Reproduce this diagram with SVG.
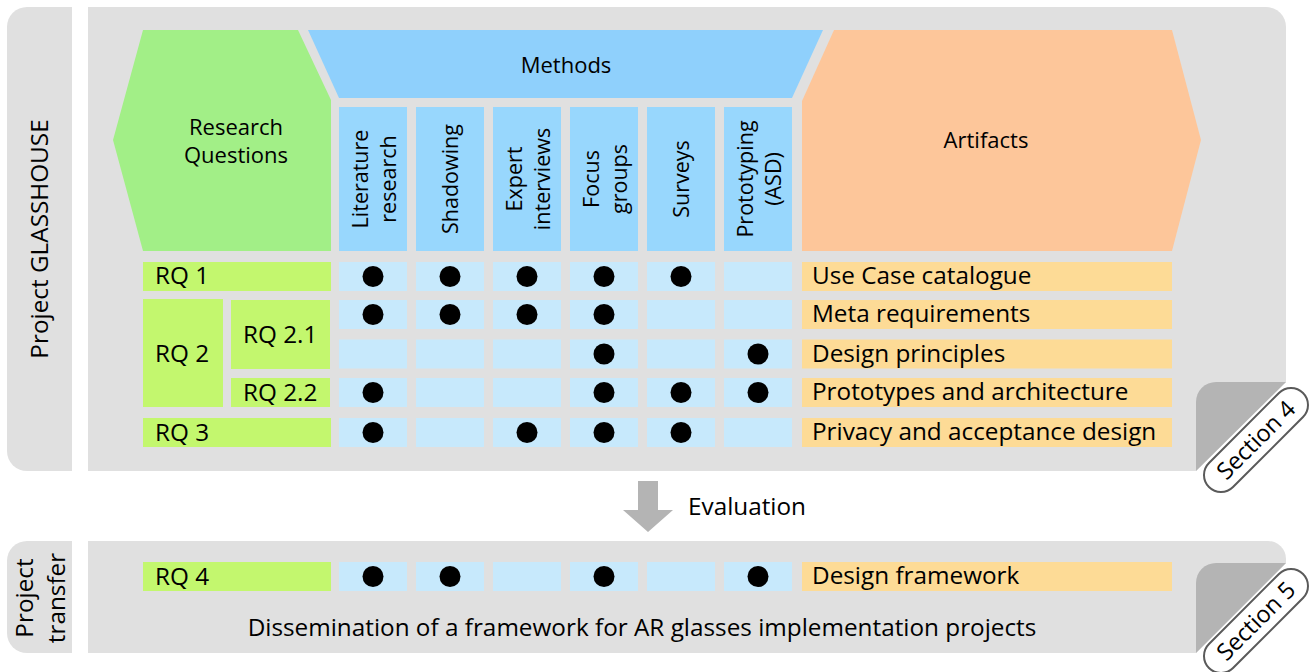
<svg xmlns="http://www.w3.org/2000/svg" width="1314" height="672" viewBox="0 0 1314 672">
  <style>
    text { font-family: "Open Sans", "Liberation Sans", sans-serif; fill: #000; }
    .panel { fill: #e0e0e0; }
    .curl { fill: #b4b4b4; }
    .pill { fill: #fff; stroke: #5a5a5a; stroke-width: 2; }
    .hdr-rq { fill: #a2ef87; }
    .hdr-m { fill: #8fd0fc; }
    .col { fill: #98d7fd; }
    .hdr-a { fill: #fdc69a; }
    .rq { fill: #c3f76e; }
    .cell { fill: #c7e9fc; }
    .art { fill: #fddb96; }
    .dot { fill: #000; }
    .arrow { fill: #b4b4b4; }
    .t24 { font-size: 24.3px; }
    .t22 { font-size: 22px; }
    .t21 { font-size: 21.5px; }
    .mid { text-anchor: middle; }
  </style>
  <defs>
    <circle id="dot" r="10.5" class="dot"/>
    <rect id="cell" width="68" height="29" class="cell"/>
  </defs>

  <rect width="1314" height="672" fill="#fff"/>

  <!-- Upper frame: Project GLASSHOUSE -->
  <g id="frame-glasshouse">
    <path class="panel" d="M27,7 H72 V471 H27 A20,20 0 0 1 7,451 V27 A20,20 0 0 1 27,7 Z"/>
    <text class="t24 mid" transform="translate(48,239) rotate(-90)">Project GLASSHOUSE</text>
    <path class="panel" d="M88,7 H1266 A20,20 0 0 1 1286,27 V382 L1196,471 H88 Z"/>
    <path class="curl" d="M1196,471 V402 A20,20 0 0 1 1216,382 H1286 Z"/>
    <g transform="translate(1256,440) rotate(-45)">
      <rect class="pill" x="-66.5" y="-17" width="133" height="34" rx="17"/>
      <text class="mid" font-size="23.5" y="8">Section 4</text>
    </g>
  </g>

  <!-- Lower frame: Project transfer -->
  <g id="frame-transfer">
    <path class="panel" d="M27,541 H72 V653 H27 A20,20 0 0 1 7,633 V561 A20,20 0 0 1 27,541 Z"/>
    <text class="t24 mid" transform="translate(0,598) rotate(-90)"><tspan x="0" y="33">Project</tspan><tspan x="0" y="65">transfer</tspan></text>
    <path class="panel" d="M88,541 H1268 A18,18 0 0 1 1286,559 V563 L1196,653 H88 Z"/>
    <path class="curl" d="M1196,653 V583 A20,20 0 0 1 1216,563 H1286 Z"/>
    <g transform="translate(1256,621) rotate(-45)">
      <rect class="pill" x="-66.5" y="-17" width="133" height="34" rx="17"/>
      <text class="mid" font-size="23.5" y="8">Section 5</text>
    </g>
    <text class="t24 mid" x="642" y="636">Dissemination of a framework for AR glasses implementation projects</text>
  </g>

  <!-- Column headers -->
  <g id="header-research-questions">
    <polygon class="hdr-rq" points="143,30 298,30 331,100 331,251 143,251 113,140"/>
    <text class="t22 mid"><tspan x="236" y="135">Research</tspan><tspan x="236" y="163">Questions</tspan></text>
  </g>
  <g id="header-methods">
    <polygon class="hdr-m" points="308,30 823,30 792,98 339,98"/>
    <text class="t22 mid" x="566" y="73">Methods</text>
  </g>
  <g id="header-artifacts">
    <polygon class="hdr-a" points="834,30 1172,30 1201,140 1172,251 802,251 802,101"/>
    <text class="t22 mid" x="986" y="148">Artifacts</text>
  </g>

  <!-- Method columns -->
  <g id="method-literature">
    <rect class="col" x="339" y="107" width="68" height="144"/>
    <text class="t21 mid" transform="translate(373,179) rotate(-90)"><tspan x="0" y="-5">Literature</tspan><tspan x="0" y="23">research</tspan></text>
  </g>
  <g id="method-shadowing">
    <rect class="col" x="416" y="107" width="68" height="144"/>
    <text class="t21 mid" transform="translate(450,179) rotate(-90)" y="8">Shadowing</text>
  </g>
  <g id="method-expert">
    <rect class="col" x="493" y="107" width="68" height="144"/>
    <text class="t21 mid" transform="translate(527,179) rotate(-90)"><tspan x="0" y="-5">Expert</tspan><tspan x="0" y="23">interviews</tspan></text>
  </g>
  <g id="method-focus">
    <rect class="col" x="570" y="107" width="68" height="144"/>
    <text class="t21 mid" transform="translate(604,179) rotate(-90)"><tspan x="0" y="-5">Focus</tspan><tspan x="0" y="23">groups</tspan></text>
  </g>
  <g id="method-surveys">
    <rect class="col" x="647" y="107" width="68" height="144"/>
    <text class="t21 mid" transform="translate(681,179) rotate(-90)" y="8">Surveys</text>
  </g>
  <g id="method-prototyping">
    <rect class="col" x="724" y="107" width="68" height="144"/>
    <text class="t21 mid" transform="translate(758,179) rotate(-90)"><tspan x="0" y="-5">Prototyping</tspan><tspan x="0" y="23">(ASD)</tspan></text>
  </g>

  <!-- Research question labels -->
  <g id="rq1">
    <rect class="rq" x="143" y="262" width="188" height="29"/>
    <text class="t24" x="155" y="284">RQ 1</text>
  </g>
  <g id="rq2">
    <rect class="rq" x="143" y="299" width="80" height="108"/>
    <text class="t24" x="155" y="362">RQ 2</text>
  </g>
  <g id="rq2-1">
    <rect class="rq" x="231" y="300" width="99" height="69"/>
    <text class="t24" x="243" y="343">RQ 2.1</text>
  </g>
  <g id="rq2-2">
    <rect class="rq" x="231" y="378" width="99" height="29"/>
    <text class="t24" x="243" y="401">RQ 2.2</text>
  </g>
  <g id="rq3">
    <rect class="rq" x="143" y="418" width="188" height="29"/>
    <text class="t24" x="155" y="441">RQ 3</text>
  </g>
  <g id="rq4">
    <rect class="rq" x="143" y="562" width="188" height="29"/>
    <text class="t24" x="155" y="585">RQ 4</text>
  </g>

  <!-- Method matrix cells -->
  <g id="matrix">
    <g transform="translate(0,262)">
      <use href="#cell" x="339"/><use href="#cell" x="416"/><use href="#cell" x="493"/>
      <use href="#cell" x="570"/><use href="#cell" x="647"/><use href="#cell" x="724"/>
      <use href="#dot" x="373" y="14.5"/><use href="#dot" x="450" y="14.5"/><use href="#dot" x="527" y="14.5"/>
      <use href="#dot" x="604" y="14.5"/><use href="#dot" x="681" y="14.5"/>
    </g>
    <g transform="translate(0,300)">
      <use href="#cell" x="339"/><use href="#cell" x="416"/><use href="#cell" x="493"/>
      <use href="#cell" x="570"/><use href="#cell" x="647"/><use href="#cell" x="724"/>
      <use href="#dot" x="373" y="14.5"/><use href="#dot" x="450" y="14.5"/><use href="#dot" x="527" y="14.5"/>
      <use href="#dot" x="604" y="14.5"/>
    </g>
    <g transform="translate(0,339.5)">
      <use href="#cell" x="339"/><use href="#cell" x="416"/><use href="#cell" x="493"/>
      <use href="#cell" x="570"/><use href="#cell" x="647"/><use href="#cell" x="724"/>
      <use href="#dot" x="604" y="14.5"/><use href="#dot" x="758" y="14.5"/>
    </g>
    <g transform="translate(0,378)">
      <use href="#cell" x="339"/><use href="#cell" x="416"/><use href="#cell" x="493"/>
      <use href="#cell" x="570"/><use href="#cell" x="647"/><use href="#cell" x="724"/>
      <use href="#dot" x="373" y="14.5"/><use href="#dot" x="604" y="14.5"/>
      <use href="#dot" x="681" y="14.5"/><use href="#dot" x="758" y="14.5"/>
    </g>
    <g transform="translate(0,418)">
      <use href="#cell" x="339"/><use href="#cell" x="416"/><use href="#cell" x="493"/>
      <use href="#cell" x="570"/><use href="#cell" x="647"/><use href="#cell" x="724"/>
      <use href="#dot" x="373" y="14.5"/><use href="#dot" x="527" y="14.5"/>
      <use href="#dot" x="604" y="14.5"/><use href="#dot" x="681" y="14.5"/>
    </g>
    <g transform="translate(0,562)">
      <use href="#cell" x="339"/><use href="#cell" x="416"/><use href="#cell" x="493"/>
      <use href="#cell" x="570"/><use href="#cell" x="647"/><use href="#cell" x="724"/>
      <use href="#dot" x="373" y="14.5"/><use href="#dot" x="450" y="14.5"/>
      <use href="#dot" x="604" y="14.5"/><use href="#dot" x="758" y="14.5"/>
    </g>
  </g>

  <!-- Artifacts -->
  <g id="art-use-case">
    <rect class="art" x="802" y="262" width="370" height="29"/>
    <text class="t24" x="812" y="284">Use Case catalogue</text>
  </g>
  <g id="art-meta">
    <rect class="art" x="802" y="300" width="370" height="29"/>
    <text class="t24" x="812" y="322">Meta requirements</text>
  </g>
  <g id="art-principles">
    <rect class="art" x="802" y="339.5" width="370" height="29"/>
    <text class="t24" x="812" y="361.5">Design principles</text>
  </g>
  <g id="art-prototypes">
    <rect class="art" x="802" y="378" width="370" height="29"/>
    <text class="t24" x="812" y="400">Prototypes and architecture</text>
  </g>
  <g id="art-privacy">
    <rect class="art" x="802" y="418" width="370" height="29"/>
    <text class="t24" x="812" y="440">Privacy and acceptance design</text>
  </g>
  <g id="art-framework">
    <rect class="art" x="802" y="562" width="370" height="29"/>
    <text class="t24" x="812" y="584">Design framework</text>
  </g>

  <!-- Evaluation step between the two frames -->
  <g id="connectors">
    <polygon class="arrow" points="638,481 658,481 658,510 673,510 648,532 623,510 638,510"/>
    <text class="t24" x="688" y="515">Evaluation</text>
  </g>
</svg>
